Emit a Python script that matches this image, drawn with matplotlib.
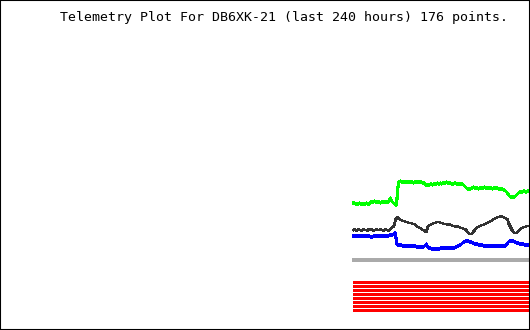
import matplotlib
matplotlib.use('Agg')
import matplotlib.pyplot as plt

# telemetry channels, 176 samples (oldest -> newest)
green_vals = [
    127, 127,
    126, 126, 126, 126, 127, 126, 126, 126, 126, 126, 126, 127, 126, 126, 126,
    128, 128, 128, 128, 129, 128, 128, 128, 128, 128, 127, 128, 128, 128, 128, 128, 128, 128, 128,
    131, 132,
    129, 128, 127, 126, 125, 125,
    138,
    148, 148, 149, 148, 148, 148, 148, 148, 148, 148,
    148, 148, 148, 148, 148, 147, 148, 148, 148, 148, 148, 148, 148, 148, 147, 147, 147,
    145, 145, 145, 145, 145, 146, 146, 145, 146, 146, 146, 146, 147, 146, 146, 147, 146,
    147, 147, 147, 147, 148, 147, 147, 147, 147, 146, 146, 146, 147, 147, 146, 146, 146,
    146, 146, 146, 146, 145, 144, 143,
    142, 141, 141, 141,
    141, 142, 142, 143, 142, 142, 142, 142, 141, 142, 142, 142, 142, 142, 143, 142, 142, 142, 142,
    142, 142, 142, 141, 142, 142, 142, 142, 142, 141, 141, 141, 141, 141, 140, 140, 139, 138,
    137, 135, 134, 133, 133,
    133, 133, 133, 134, 135,
    136, 137, 138,
    138, 138, 138, 139, 139, 138, 138, 139, 139,
]

black_vals = [
    100, 101, 100, 99, 100, 101, 100, 100, 99, 100, 101, 100, 100, 100, 99, 101, 100, 100,
    101, 100, 99, 100, 100, 101, 100, 100, 100, 101, 100, 100, 99, 100, 101, 100, 100,
    99, 100, 101, 102, 103, 103,
    106, 110, 112, 113,
    112, 111, 110,
    110, 109, 109, 109, 108, 108, 108,
    107, 107, 107, 107, 106, 106, 106, 105,
    104, 103, 103, 102, 102, 101, 100, 100, 99, 98,
    98, 103, 104, 105, 105, 106, 106, 107, 107, 107, 108, 108, 108,
    108, 107, 107, 107, 106, 106, 106, 106, 105, 105,
    106, 105, 105, 104, 104, 104, 103, 104, 104, 103, 103, 102, 102, 102, 101, 101, 101,
    99, 98, 97, 96, 96, 96, 97, 98,
    100, 101, 102, 103, 103, 104, 104, 105, 105, 105, 106, 106,
    107, 107, 108, 108, 109, 109, 110, 111, 111, 112, 112, 113, 113,
    113, 114, 114, 113, 113, 112, 112, 111, 111,
    107, 105, 103,
    101, 99, 98, 97, 97, 97, 98,
    99, 100, 101, 102, 102, 103, 103, 103, 104, 104, 104,
]

blue_vals = [
    94, 94, 94, 94, 94, 94, 94, 94, 94, 94, 94, 94, 94, 94, 94, 94, 94, 93,
    93, 93, 94, 94, 94, 94, 94, 94, 94, 94, 94, 94, 94, 94, 94, 94, 94,
    94, 95, 95, 95, 95,
    96, 97, 97,
    87,
    85, 85, 85, 85, 85, 84, 84,
    84, 84, 84, 84, 84, 84, 84, 84, 84, 84, 84, 84,
    83, 83, 83, 83, 83, 83, 83, 83, 84, 85,
    86,
    83, 82, 82, 82, 81, 81, 81, 81, 81, 81, 81, 81, 81, 82,
    82, 82, 82, 82, 82, 82, 82, 82, 82, 82, 82, 82, 82, 82,
    83, 83, 84, 84, 85, 85, 86, 87, 88,
    88, 89, 89, 89, 89, 88, 88, 88, 87,
    87, 86, 86, 86, 86, 85, 85, 85, 85, 85, 84, 84, 84,
    84, 84, 84, 84, 84, 84, 84, 84, 84, 84, 84, 84, 84, 84, 84, 84, 84, 84, 84, 84,
    85, 87, 88, 89, 89, 89, 89, 89,
    88, 88, 87, 87, 87, 86, 86, 86, 86, 86, 85, 85, 85, 85, 85,
]

gray_level = 70
# status bits, all set, one trace per bit
bit_levels = [48.5, 44.5, 40.5, 36.5, 32.5, 28.5, 24.5, 20.5]

title = 'Telemetry Plot For DB6XK-21 (last 240 hours) 176 points.'

n = 176

fig = plt.figure(figsize=(5.3, 3.3), dpi=100)
ax = fig.add_axes([0, 0, 1, 1])

ax.plot(range(len(green_vals)), green_vals, color='#00ff00', lw=1.5, antialiased=False)
ax.plot(range(len(black_vals)), black_vals, color='#333333', lw=1.3, antialiased=False)
ax.plot(range(len(blue_vals)), blue_vals, color='#0000ff', lw=1.5, antialiased=False)
ax.plot(range(n), [gray_level] * n, color='#aaaaaa', lw=1.5, antialiased=False,
        solid_capstyle='projecting')
for lvl in bit_levels:
    ax.plot(range(n), [lvl] * n, color='#ff0000', lw=2.16, antialiased=False,
            solid_capstyle='projecting')

ax.set_xlim(-353.5, 176.5)
ax.set_ylim(0, 330)
ax.set_xticks([])
ax.set_yticks([])
for s in ax.spines.values():
    s.set_color('black')
    s.set_linewidth(1.5)

fig.text(60 / 530, 1 - 18 / 330, title, family='DejaVu Sans Mono',
         fontsize=9.55, va='center', ha='left')

fig.savefig('out.png', dpi=100, facecolor='white')
